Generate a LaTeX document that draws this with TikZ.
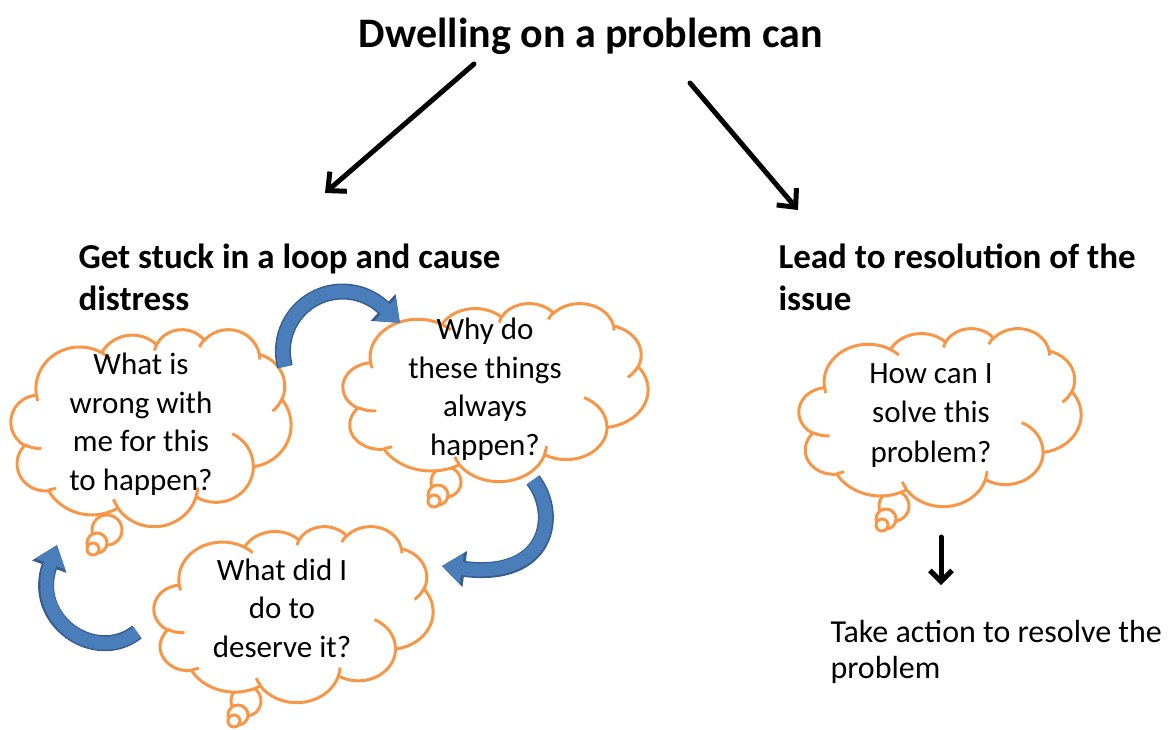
\documentclass[tikz,border=0pt]{standalone}
\usepackage{fontspec}
\setmainfont{Carlito}
\usetikzlibrary{arrows.meta}

\definecolor{cloudorange}{HTML}{F79646}
\definecolor{loopblue}{HTML}{4A7EBB}
\definecolor{loopedge}{HTML}{385D8A}

% one puff of a cloud outline: x radius, y radius, start and sweep angle
% (angles measured geometrically, turned into the ellipse parameter)
\newcommand\puffarc[4]{arc[x radius=#1, y radius=#2,
  start angle={atan2((#1)*sin(#3),(#2)*cos(#3))},
  delta angle={mod(atan2((#1)*sin(#3+#4),(#2)*cos(#3+#4))-atan2((#1)*sin(#3),(#2)*cos(#3))+720,360)}]}

% a cloud in a 1000 x 1000 box, drawn inside a scaled scope
\newcommand\thoughtcloud{%
  \filldraw[cloudline, fill=white] (90.28,332.64)
    \puffarc{156.32}{212.73}{-190.4875}{123.7805}
    \puffarc{123.45}{168.22}{-144.1024}{89.9452}
    \puffarc{101.04}{137.62}{-145.8079}{99.7230}
    \puffarc{112.43}{152.66}{-130.9861}{117.2417}
    \puffarc{123.45}{168.36}{-78.7089}{109.0269}
    \puffarc{156.83}{213.43}{-46.2673}{130.269}
    \puffarc{133.91}{182.11}{0.625}{114.0333}
    \puffarc{156.30}{213.31}{22.4516}{115.1726}
    \puffarc{178.70}{244.05}{66.2426}{75.7110}
    \puffarc{100.93}{136.99}{-274.9421}{146.7356}
    \puffarc{100.58}{137.62}{-246.8285}{152.5189}
    -- cycle;
  \draw[cloudline]
    (108.63,605.95) \puffarc{100.58}{137.62}{86.742}{26.4295}
    (160.37,807.85) \puffarc{100.93}{136.99}{73.6105}{11.4475}
    (381.44,904.86) \puffarc{156.30}{213.31}{137.6242}{14.0811}
    (667.29,804.42) \puffarc{156.30}{213.31}{6.4533}{15.9984}
    (790.02,531.34) \puffarc{133.91}{182.11}{-70.2924}{70.9174}
    (967.55,355.42) \puffarc{123.45}{168.36}{30.3180}{27.7515}
    (887.13,125.60) \puffarc{112.43}{152.66}{-13.7443}{14.8589}
    (673.10,91.48)  \puffarc{112.43}{152.66}{-149.1815}{18.1954}
    (512.52,109.26) \puffarc{101.04}{137.62}{-163.4943}{17.6864}
    (324.07,120.19) \puffarc{156.32}{212.73}{-66.7070}{12.3194}
    (95.53,365.49)  \puffarc{156.32}{212.73}{157.6544}{11.8582};
}

\begin{document}
\begin{tikzpicture}[x=1pt,y=-1pt,
  cloudline/.style={draw=cloudorange, line width=3pt, line join=round},
  bubble/.style={circle, draw=cloudorange, line width=3pt, fill=white, inner sep=0pt},
  cloudtext/.style={anchor=base, align=center, font=\fontsize{31}{38.5}\selectfont},
  heading/.style={anchor=base west, align=left, font=\bfseries\fontsize{35}{42}\selectfont},
  plaintext/.style={anchor=base west, align=left, font=\fontsize{32}{36}\selectfont},
  blackarrow/.style={line width=5pt, line cap=round,
    -{Straight Barb[length=14pt,width=26pt,line width=5pt]}},
  looparrow/.style={line width=13pt, draw=loopblue,
    -{Triangle[length=20pt,width=30pt]},
    preaction={draw=loopedge, line width=16pt, -{Triangle[length=23pt,width=35pt]}}},
]
\useasboundingbox (0,0) rectangle (1168,729);

% title and the two branches
\node[anchor=base, font=\bfseries\fontsize{42}{50}\selectfont] (title) at (591,47) {Dwelling on a problem can};
\coordinate (l0) at (474,64);  \coordinate (l1) at (325,193);
\coordinate (r0) at (690,83);  \coordinate (r1) at (798,210);
\draw[blackarrow] (l0) -- (l1);
\draw[blackarrow] (r0) -- (r1);

\node[heading] (loophead) at (75,310) {Get stuck in a loop and cause\\distress};
\node[heading] (resohead) at (775,310) {Lead to resolution of the\\issue};

% thought bubbles (small circles under each cloud)
\node[bubble, minimum size=30pt] (b1a) at (107,530) {};
\node[bubble, minimum size=20pt] (b1b) at (97,543) {};
\node[bubble, minimum size=12pt] (b1c) at (93,549) {};

\node[bubble, minimum size=30pt] (b2a) at (446,482) {};
\node[bubble, minimum size=20pt] (b2b) at (438,495) {};
\node[bubble, minimum size=12pt] (b2c) at (434,501) {};

\node[bubble, minimum size=30pt] (b3a) at (246,701) {};
\node[bubble, minimum size=20pt] (b3b) at (238,715) {};
\node[bubble, minimum size=12pt] (b3c) at (234,721) {};

\node[bubble, minimum size=30pt] (b4a) at (894,506) {};
\node[bubble, minimum size=20pt] (b4b) at (886,519) {};
\node[bubble, minimum size=12pt] (b4c) at (882,525) {};

% clouds
\begin{scope}[xshift=11pt, yshift=-329pt, x=0.280pt, y=-0.197pt] \thoughtcloud \end{scope}
\begin{scope}[xshift=343pt, yshift=-303pt, x=0.305pt, y=-0.178pt] \thoughtcloud \end{scope}
\begin{scope}[xshift=154pt, yshift=-526pt, x=0.279pt, y=-0.176pt] \thoughtcloud \end{scope}
\begin{scope}[xshift=799pt, yshift=-328pt, x=0.282pt, y=-0.178pt] \thoughtcloud \end{scope}

\node[cloudtext] (q1) at (141,490) {What is\\wrong with\\me for this\\to happen?};
\node[cloudtext] (q2) at (485,455) {Why do\\these things\\always\\happen?};
\node[cloudtext] (q3) at (282,657) {What did I\\do to\\deserve it?};
\node[cloudtext, font=\fontsize{31}{39.5}\selectfont] (q4) at (931,462) {How can I\\solve this\\problem?};

% the loop of arrows between the questions
\coordinate (a1tip) at (400,323);
\draw[looparrow] plot[domain=165:312, samples=30] ({342.6+59.7*cos(\x)},{351.2+59.7*sin(\x)}) -- (a1tip);
\coordinate (a2s) at (533,480); \coordinate (a2e) at (442,566);
\draw[looparrow] (a2s) .. controls (560,515) and (548,580) .. (a2e);
\coordinate (a3s) at (137,632); \coordinate (a3e) at (57,545);
\draw[looparrow] (a3s) .. controls (95,665) and (30,620) .. (a3e);

% action step
\coordinate (s0) at (941,537); \coordinate (s1) at (941,585);
\draw[blackarrow, -{Straight Barb[length=11pt,width=22pt,line width=5pt]}] (s0) -- (s1);
\node[plaintext] (action) at (827,678) {Take action to resolve the\\problem};
\end{tikzpicture}
\end{document}
